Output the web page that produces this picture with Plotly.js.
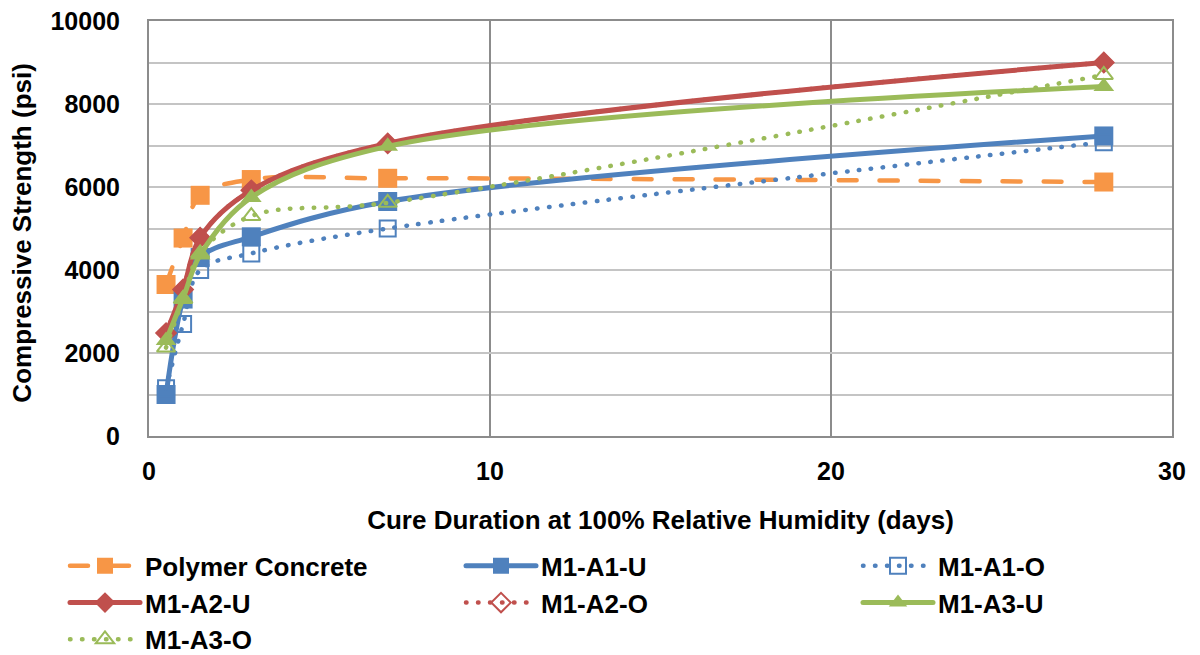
<!DOCTYPE html>
<html>
<head>
<meta charset="utf-8">
<script src="https://cdn.plot.ly/plotly-3.0.1.min.js"></script>
<style>
  html, body { margin: 0; padding: 0; background: #fff; }
  #chart { width: 1200px; height: 655px; }
  path.js-line { stroke-linecap: round; }
</style>
</head>
<body>
<div id="chart"></div>
<script>
// Cure durations (days) and compressive strength (psi) per mix
const cureDays = [0.5, 1, 1.5, 3, 7, 28];
const polymerConcrete = [3650, 4770, 5800, 6180, 6210, 6120];
const m1A1U = [1000, 3300, 4300, 4800, 5650, 7230];
const m1A1O = [1150, 2700, 4000, 4400, 5000, 7080];
const m1A2U = [2480, 3530, 4780, 5920, 7050, 9000];
const m1A2O = [2480, 3530, 4780, 5920, 7050, 9000];
const m1A3U = [2300, 3320, 4360, 5750, 6980, 8420];
const m1A3O = [2130, 3300, 4400, 5300, 5620, 8700];

const seriesNames = ['Polymer Concrete', 'M1-A1-U', 'M1-A1-O', 'M1-A2-U', 'M1-A2-O', 'M1-A3-U', 'M1-A3-O'];
const yTitle = 'Compressive Strength (psi)';
const xTitle = 'Cure Duration at 100% Relative Humidity (days)';

const ORANGE = '#F79646', BLUE = '#4F81BD', RED = '#C0504D', GREEN = '#9BBB59';
const DOTS = '0.5px,11.5px';

function series(name, y, color, dash, symbol, size, legendId) {
  const open = symbol.endsWith('-open');
  return {
    type: 'scatter', mode: 'lines+markers', name: name,
    x: cureDays, y: y, legend: legendId,
    line: { color: color, width: dash === 'solid' ? 5 : 4.5, dash: dash, shape: 'spline', smoothing: 1 },
    marker: open
      ? { symbol: symbol, size: size, color: color, line: { color: color, width: 2 } }
      : { symbol: symbol, size: size, color: color, line: { width: 0 } }
  };
}

// legend entries are laid out in three columns: legend, legend2, legend3
const traces = [
  series(seriesNames[0], polymerConcrete, ORANGE, '18px,23px', 'square', 19, 'legend'),
  series(seriesNames[1], m1A1U, BLUE, 'solid', 'square', 19, 'legend2'),
  series(seriesNames[2], m1A1O, BLUE, DOTS, 'square-open', 16, 'legend3'),
  series(seriesNames[3], m1A2U, RED, 'solid', 'diamond', 16, 'legend'),
  series(seriesNames[4], m1A2O, RED, DOTS, 'diamond-open', 15, 'legend2'),
  series(seriesNames[5], m1A3U, GREEN, 'solid', 'triangle-up', 18, 'legend3'),
  series(seriesNames[6], m1A3O, GREEN, DOTS, 'triangle-up-open', 16, 'legend')
];

const FONT = 'Liberation Sans, Arial, sans-serif';

function legendAt(xpx) {
  return {
    orientation: 'v',
    x: xpx / 1200, xref: 'container', xanchor: 'left',
    y: 0.172, yref: 'container', yanchor: 'top',
    itemwidth: 70,
    traceorder: 'normal',
    tracegroupgap: 0,
    font: { family: FONT, size: 26, color: '#000000', weight: 'bold' },
    bgcolor: 'rgba(0,0,0,0)'
  };
}

const layout = {
  width: 1200, height: 655,
  margin: { l: 149, r: 28, t: 21, b: 219, autoexpand: false },
  paper_bgcolor: '#ffffff', plot_bgcolor: '#ffffff',
  font: { family: FONT, size: 25, color: '#000000', weight: 'bold' },
  showlegend: true,
  xaxis: {
    range: [0, 30], dtick: 10, tick0: 0,
    showgrid: true, gridcolor: '#8c8c8c', gridwidth: 2,
    zeroline: false,
    showline: true, linecolor: '#8c8c8c', linewidth: 2, mirror: true,
    ticks: 'outside', ticklen: 12, tickcolor: 'rgba(0,0,0,0)',
    tickfont: { family: FONT, size: 25, weight: 'bold' },
    title: { text: xTitle, standoff: 27,
             font: { family: FONT, size: 26, weight: 'bold' } }
  },
  yaxis: {
    range: [0, 10000], dtick: 2000, tick0: 0, tickformat: 'd',
    showgrid: true, gridcolor: '#c4c4c4', gridwidth: 2,
    minor: { dtick: 1000, showgrid: true, gridcolor: '#c4c4c4', gridwidth: 2 },
    zeroline: false,
    showline: true, linecolor: '#8c8c8c', linewidth: 2, mirror: true,
    ticks: 'outside', ticklen: 22, tickcolor: 'rgba(0,0,0,0)',
    tickfont: { family: FONT, size: 25, weight: 'bold' }
  },
  // vertical axis title, set beside the tick labels
  annotations: [{
    text: yTitle, textangle: -90, showarrow: false,
    xref: 'paper', yref: 'paper', x: (22 - 149) / 1023, y: 0.49,
    xanchor: 'center', yanchor: 'middle',
    font: { family: FONT, size: 26, color: '#000000', weight: 'bold' }
  }],
  legend: legendAt(65),
  legend2: legendAt(461),
  legend3: legendAt(858)
};

Plotly.newPlot('chart', traces, layout, { displayModeBar: false, staticPlot: true });
</script>
</body>
</html>
